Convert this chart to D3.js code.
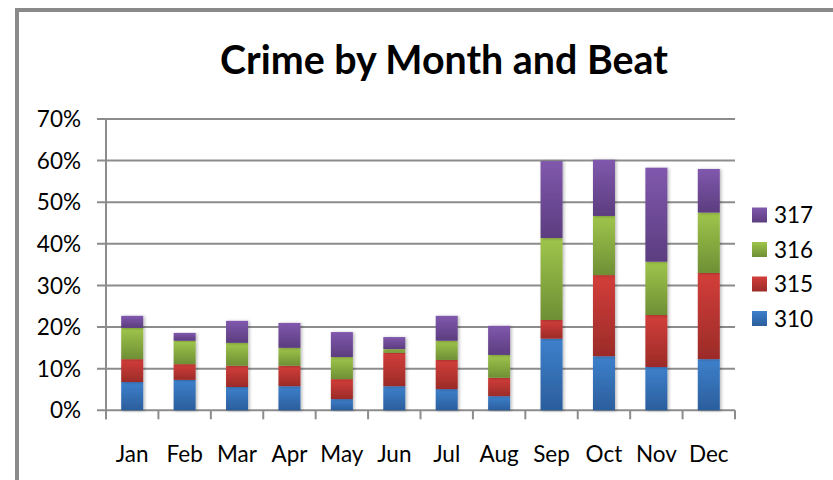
<!DOCTYPE html>
<html>
<head>
<meta charset="utf-8">
<script src="https://cdn.jsdelivr.net/npm/d3@7"></script>
<style>
  html, body { margin: 0; padding: 0; background: #fff; }
  svg { display: block; }
  text { font-family: Lato, "Open Sans", sans-serif; fill: #000; }
</style>
</head>
<body>
<svg id="chart" width="833" height="480"></svg>
<script>
const months = ["Jan","Feb","Mar","Apr","May","Jun","Jul","Aug","Sep","Oct","Nov","Dec"];
const beats = ["310","315","316","317"];
const beat310 = [6.8, 7.3, 5.6, 5.8, 2.7, 5.8, 5.1, 3.4, 17.2, 13.0, 10.4, 12.3];
const beat315 = [5.5, 3.8, 5.1, 4.9, 4.8, 8.0, 7.0, 4.4, 4.5, 19.5, 12.5, 20.7];
const beat316 = [7.5, 5.6, 5.5, 4.3, 5.3, 0.9, 4.6, 5.5, 19.7, 14.2, 12.8, 14.5];
const beat317 = [2.9, 1.9, 5.3, 6.0, 6.0, 2.9, 6.0, 7.0, 18.5, 13.5, 22.6, 10.5];
const yTicks = [0, 10, 20, 30, 40, 50, 60, 70];
const title = "Crime by Month and Beat";

const seriesValues = [beat310, beat315, beat316, beat317];
const colors = {
  "310": ["#3d80cc", "#2b5e9c"],
  "315": ["#d33e3a", "#9b2b28"],
  "316": ["#9fc54b", "#6f8f35"],
  "317": ["#8058ad", "#5c3d7f"]
};

const table = months.map((m, i) => {
  const row = { month: m };
  beats.forEach((b, k) => row[b] = seriesValues[k][i]);
  return row;
});

const svg = d3.select("#chart");
const defs = svg.append("defs");
beats.forEach(b => {
  const g = defs.append("linearGradient").attr("id", "g" + b)
    .attr("x1", 0).attr("y1", 0).attr("x2", 0).attr("y2", 1);
  g.append("stop").attr("offset", "0%").attr("stop-color", colors[b][0]);
  g.append("stop").attr("offset", "100%").attr("stop-color", colors[b][1]);
});
const f = defs.append("filter").attr("id", "shadow").attr("x", "-30%").attr("y", "-10%").attr("width", "160%").attr("height", "120%");
f.append("feDropShadow").attr("dx", 1.5).attr("dy", 0.5).attr("stdDeviation", 1.6)
  .attr("flood-color", "#000").attr("flood-opacity", 0.28);

// outer border
svg.append("path")
  .attr("d", "M17,490 L17,10 L845,10")
  .attr("fill", "none").attr("stroke", "#8a8a8a").attr("stroke-width", 4);

const x0 = 106, x1 = 735, yBottom = 410.3, yTop = 119;
const x = d3.scaleBand().domain(months).range([x0, x1]).paddingInner(0.58).paddingOuter(0.29);
const y = d3.scaleLinear().domain([0, 70]).range([yBottom, yTop]);

// gridlines
svg.append("g").selectAll("line").data(yTicks).join("line")
  .attr("x1", x0 - 9).attr("x2", x1)
  .attr("y1", d => y(d)).attr("y2", d => y(d))
  .attr("stroke", "#8c8c8c").attr("stroke-width", 2);

// y-axis line
svg.append("line").attr("x1", x0).attr("x2", x0).attr("y1", yTop).attr("y2", yBottom + 9)
  .attr("stroke", "#8c8c8c").attr("stroke-width", 2);

// x ticks at band boundaries
const bandEdges = months.map(m => x(m) - x.step() * x.paddingOuter()).concat([x1]);
svg.append("g").selectAll("line").data(bandEdges).join("line")
  .attr("x1", d => d).attr("x2", d => d)
  .attr("y1", yBottom).attr("y2", yBottom + 9)
  .attr("stroke", "#8c8c8c").attr("stroke-width", 2);

// y labels
svg.append("g").selectAll("text").data(yTicks).join("text")
  .attr("x", 81).attr("y", d => y(d)).attr("dy", "0.36em")
  .attr("text-anchor", "end").attr("font-size", 22.5)
  .text(d => d + "%");

// x labels
svg.append("g").selectAll("text").data(months).join("text")
  .attr("x", d => x(d) + x.bandwidth() / 2).attr("y", 462)
  .attr("text-anchor", "middle").attr("font-size", 22.5)
  .text(d => d);

// stacked bars
const stack = d3.stack().keys(beats)(table);
svg.append("g").selectAll("g").data(stack).join("g")
  .attr("fill", d => "url(#g" + d.key + ")")
  .selectAll("rect").data(d => d).join("rect")
  .attr("x", d => x(d.data.month))
  .attr("width", x.bandwidth())
  .attr("y", d => y(d[1]))
  .attr("height", d => y(d[0]) - y(d[1]))
  .attr("filter", "url(#shadow)");

// title
const t = svg.append("text").attr("x", 444).attr("y", 74)
  .attr("text-anchor", "middle").attr("font-weight", "bold").attr("font-size", 36)
  .text(title);
const tw = t.node().getComputedTextLength();
t.attr("font-size", 36 * 448 / tw);

// legend
const legendOrder = beats.slice().reverse();
const lg = svg.append("g").selectAll("g").data(legendOrder).join("g")
  .attr("transform", (d, i) => `translate(752, ${215 + i * 34.5})`);
lg.append("rect").attr("x", 0).attr("y", -7.5).attr("width", 15).attr("height", 15)
  .attr("fill", d => "url(#g" + d + ")");
lg.append("text").attr("x", 22).attr("y", 0).attr("dy", "0.36em")
  .attr("font-size", 22.5).text(d => d);
</script>
</body>
</html>
